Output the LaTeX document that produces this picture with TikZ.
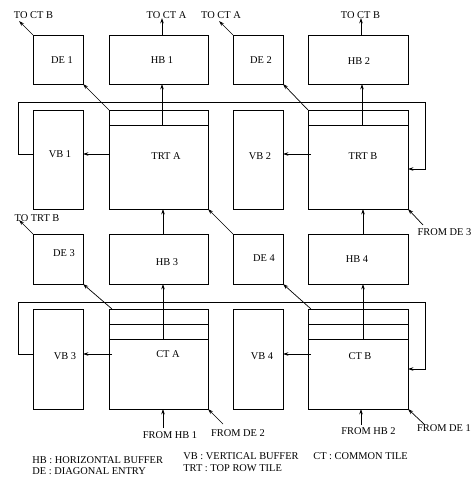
\documentclass[tikz,border=0pt]{standalone}
\usepackage{fontspec}
\setmainfont{Liberation Serif}
\usetikzlibrary{arrows.meta}
\begin{document}
\begin{tikzpicture}[x=1pt,y=-1pt, line width=0.7pt,
  box/.style={draw, anchor=north west, inner sep=0pt, outer sep=0pt},
  small/.style={box, minimum width=50pt},
  wide/.style={box, minimum width=100pt},
  lab/.style={inner sep=0pt, font=\fontsize{10.4}{12}\selectfont},
  arr/.style={-{Stealth[length=5.5pt,width=3.6pt]}}]
\useasboundingbox (0,0) rectangle (473,477);
% row 1
\node[small, minimum height=49pt] (de1) at (33,35) {};
\node[wide, minimum width=99pt, minimum height=49pt] (hb1) at (109,35) {};
\node[small, minimum height=49pt] (de2) at (233,35) {};
\node[wide, minimum height=49pt] (hb2) at (308,35) {};
% row 2
\node[small, minimum height=99pt] (vb1) at (33,110) {};
\node[wide, minimum width=99pt, minimum height=99pt] (trta) at (109,110) {};
\node[small, minimum height=99pt] (vb2) at (233,110) {};
\node[wide, minimum height=99pt] (trtb) at (308,110) {};
% row 3
\node[small, minimum height=50pt] (de3) at (33,234) {};
\node[wide, minimum width=99pt, minimum height=50pt] (hb3) at (109,234) {};
\node[small, minimum height=50pt] (de4) at (233,234) {};
\node[wide, minimum height=50pt] (hb4) at (308,234) {};
% row 4
\node[small, minimum height=100pt] (vb3) at (33,309) {};
\node[wide, minimum width=99pt, minimum height=100pt] (cta) at (109,309) {};
\node[small, minimum height=100pt] (vb4) at (233,309) {};
\node[wide, minimum height=100pt] (ctb) at (308,309) {};
% box labels
\node[lab] (de1t) at (62,60) {DE 1};
\node[lab] (hb1t) at (162,60) {HB 1};
\node[lab] (de2t) at (261,60) {DE 2};
\node[lab] (hb2t) at (359,61) {HB 2};
\node[lab] (vb1t) at (60,154) {VB 1};
\node[lab] (trtat) at (166,156) {TRT A};
\node[lab] (vb2t) at (260,156) {VB 2};
\node[lab] (trtbt) at (363,156) {TRT B};
\node[lab] (de3t) at (64,253) {DE 3};
\node[lab] (hb3t) at (167,262) {HB 3};
\node[lab] (de4t) at (264,258) {DE 4};
\node[lab] (hb4t) at (357,259) {HB 4};
\node[lab] (vb3t) at (65,356) {VB 3};
\node[lab] (ctat) at (168,354) {CT A};
\node[lab] (vb4t) at (262,356) {VB 4};
\node[lab] (ctbt) at (360,356) {CT B};
% inner lines
\coordinate (ta) at (0,125); \coordinate (tb) at (0,125);
\draw (trta.west |- ta) -- (trta.east |- ta);
\draw (trtb.west |- tb) -- (trtb.east |- tb);
\coordinate (c1) at (0,324); \coordinate (c2) at (0,339);
\draw (cta.west |- c1) -- (cta.east |- c1);
\draw (cta.west |- c2) -- (cta.east |- c2);
\draw (ctb.west |- c1) -- (ctb.east |- c1);
\draw (ctb.west |- c2) -- (ctb.east |- c2);
% column x positions of vertical arrows
\coordinate (xa) at (162,0); \coordinate (xb) at (362,0);
% outside labels
\node[lab] (l1) at (33.5,15) {TO CT B};
\node[lab] (l2) at (166.5,15) {TO CT A};
\node[lab] (l3) at (221,15) {TO CT A};
\node[lab] (l4) at (360.5,15) {TO CT B};
\node[lab] (l5) at (37,218) {TO TRT B};
\node[lab] (l6) at (444.5,232) {FROM DE 3};
\node[lab] (l7) at (170,435) {FROM HB 1};
\node[lab] (l8) at (238,433) {FROM DE 2};
\node[lab] (l9) at (368.5,431) {FROM HB 2};
\node[lab] (l10) at (444,428) {FROM DE 1};
% top arrows
\coordinate (t1) at (19,21); \coordinate (t3) at (219,21); \coordinate (t5) at (19,220);
\draw[arr] (de1.north west) -- (t1);
\draw[arr] (de2.north west) -- (t3);
\draw[arr] (de3.north west) -- (t5);
\coordinate (t2) at (162,18); \coordinate (t4) at (361,18);
\draw[arr] (hb1.north -| t2) -- (t2);
\draw[arr] (hb2.north -| t4) -- (t4);
% TRT -> HB
\draw[arr] (trta.north -| xa) ++(0,15) -- (hb1.south -| xa);
\draw[arr] (trtb.north -| xb) ++(0,15) -- (hb2.south -| xb);
% TRT -> VB
\coordinate (ya) at (0,154);
\draw[arr] (trta.west |- ya) -- (vb1.east |- ya);
\draw[arr] ([xshift=3pt]trtb.west |- ya) -- (vb2.east |- ya);
% TRT -> DE
\draw[arr] (trta.north west) -- (de1.south east);
\draw[arr] (trtb.north west) -- (de2.south east);
% loop row 2
\coordinate (lp1) at (18,102); \coordinate (lp2) at (425,102);
\coordinate (yb) at (0,169);
\draw (vb1.west |- ya) -- (lp1 |- ya) -- (lp1) -- (lp2);
\draw[arr] (lp2) -- (lp2 |- yb) -- (trtb.east |- yb);
% HB row 3 -> TRT
\coordinate (xa3) at (163,0); \coordinate (xb3) at (363,0);
\draw[arr] (hb3.north -| xa3) -- (trta.south -| xa3);
\draw[arr] (hb4.north -| xb3) -- (trtb.south -| xb3);
\draw[arr] (de4.north west) -- (trta.south east);
\coordinate (f3) at (423,225);
\draw[arr] (f3) -- (trtb.south east);
% CT -> HB
\draw[arr] (cta.north -| xa3) ++(0,30) -- (hb3.south -| xa3);
\draw[arr] (ctb.north -| xb3) ++(0,30) -- (hb4.south -| xb3);
% CT -> VB
\coordinate (yc) at (0,354);
\draw[arr] ([xshift=3pt]cta.west |- yc) -- (vb3.east |- yc);
\draw[arr] ([xshift=3pt]ctb.west |- yc) -- (vb4.east |- yc);
% CT -> DE
\draw[arr] ([xshift=3pt]cta.north west) -- (de3.south east);
\draw[arr] ([xshift=3pt]ctb.north west) -- (de4.south east);
% loop row 4
\coordinate (lq1) at (18,302); \coordinate (lq2) at (425,302);
\coordinate (yd) at (0,369);
\draw (vb3.west |- yc) -- (lq1 |- yc) -- (lq1) -- (lq2);
\draw[arr] (lq2) -- (lq2 |- yd) -- (ctb.east |- yd);
% bottom arrows
\coordinate (b1) at (163,428); \coordinate (b2) at (223,424);
\coordinate (b3) at (361,425); \coordinate (b4) at (425,425);
\draw[arr] (b1) -- (cta.south -| b1);
\draw[arr] (b2) -- (cta.south east);
\draw[arr] (b3) -- (ctb.south -| b3);
\draw[arr] (b4) -- (ctb.south east);
% legend
\node[lab, anchor=west] (g1) at (32,460) {HB : HORIZONTAL BUFFER};
\node[lab, anchor=west] (g2) at (32,471) {DE : DIAGONAL ENTRY};
\node[lab, anchor=west] (g3) at (183,456) {VB : VERTICAL BUFFER};
\node[lab, anchor=west] (g4) at (183,468) {TRT : TOP ROW TILE};
\node[lab, anchor=west] (g5) at (313,456) {CT : COMMON TILE};
\end{tikzpicture}
\end{document}
